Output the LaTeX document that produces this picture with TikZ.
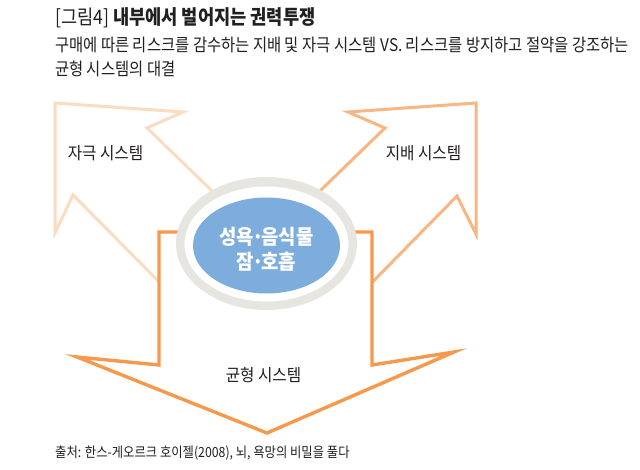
\documentclass[tikz,border=0pt]{standalone}
\usepackage{fontspec}
\newfontfamily\kr[FakeStretch=0.88]{Noto Sans CJK KR}
\newfontfamily\krwide[FakeStretch=0.92]{Noto Sans CJK KR}
\usetikzlibrary{shapes.geometric}
\definecolor{peach}{HTML}{FCDCC0}
\definecolor{lightorange}{HTML}{F9B682}
\definecolor{deeporange}{HTML}{F6994C}
\definecolor{ringgray}{HTML}{E6E5DF}
\definecolor{coreblue}{HTML}{7CADDD}
\definecolor{ink}{HTML}{231F20}
\newcommand{\tdot}{\kern-0.1em·\kern-0.1em}
\tikzset{
  arrowline/.style={line width=3pt, line join=miter},
  label/.style={font=\krwide\fontsize{17}{20}\selectfont, text=ink, inner sep=0pt},
  headtext/.style={anchor=base west, inner sep=0pt, text=ink},
}
\begin{document}
\begin{tikzpicture}[x=1pt,y=-1pt]
\useasboundingbox[fill=white] (0,0) rectangle (640,470);
% title block
\node[headtext, font=\kr\fontsize{20}{23}\selectfont] (title) at (55,25)
  {[그림4] \textbf{내부에서 벌어지는 권력투쟁}};
\node[headtext, font=\kr\fontsize{17.5}{20}\selectfont] (sub1) at (55,52)
  {구매에 따른 리스크를 감수하는 지배 및 자극 시스템 VS. 리스크를 방지하고 절약을 강조하는};
\node[headtext, font=\kr\fontsize{17.5}{20}\selectfont] (sub2) at (55,76)
  {균형 시스템의 대결};
% left arrow (stimulation)
\draw[arrowline, draw=peach] (55,103) -- (183,112) -- (147,128) -- (240,218)
  -- (190,313) -- (73,195) -- (55,233) -- cycle;
% right arrow (dominance)
\draw[arrowline, draw=lightorange] (476,103) -- (348,112) -- (385,128) -- (292,218)
  -- (342,313) -- (457,196) -- (476,234) -- cycle;
% down arrow (balance)
\draw[arrowline, draw=deeporange, fill=white, line width=3.4pt] (159,232) -- (159,365) -- (77,357)
  -- (267,433) -- (454,352) -- (372,365) -- (372,232) -- cycle;
% central ellipse
\node[ellipse, fill=ringgray, minimum width=181pt, minimum height=133pt, inner sep=0pt] (ring) at (266.5,243.5) {};
\node[ellipse, fill=white, minimum width=164pt, minimum height=115pt, inner sep=0pt] (gap) at (266.5,244) {};
\node[ellipse, fill=coreblue, minimum width=147pt, minimum height=96pt, inner sep=0pt] (core) at (266.5,245.5) {};
\node[font=\krwide\bfseries\fontsize{20.5}{25}\selectfont, text=white, align=center, inner sep=0pt] (coretext) at (266.5,249)
  {성욕\tdot 음식물\\잠\tdot 호흡};
% labels
\node[label] (stim) at (105.5,153) {자극 시스템};
\node[label] (dom) at (423.5,153) {지배 시스템};
\node[label] (bal) at (263.5,375) {균형 시스템};
% source
\node[headtext, font=\kr\fontsize{14}{16}\selectfont] (src) at (55,457)
  {출처: 한스-게오르크 호이젤(2008), 뇌, 욕망의 비밀을 풀다};
\end{tikzpicture}
\end{document}
